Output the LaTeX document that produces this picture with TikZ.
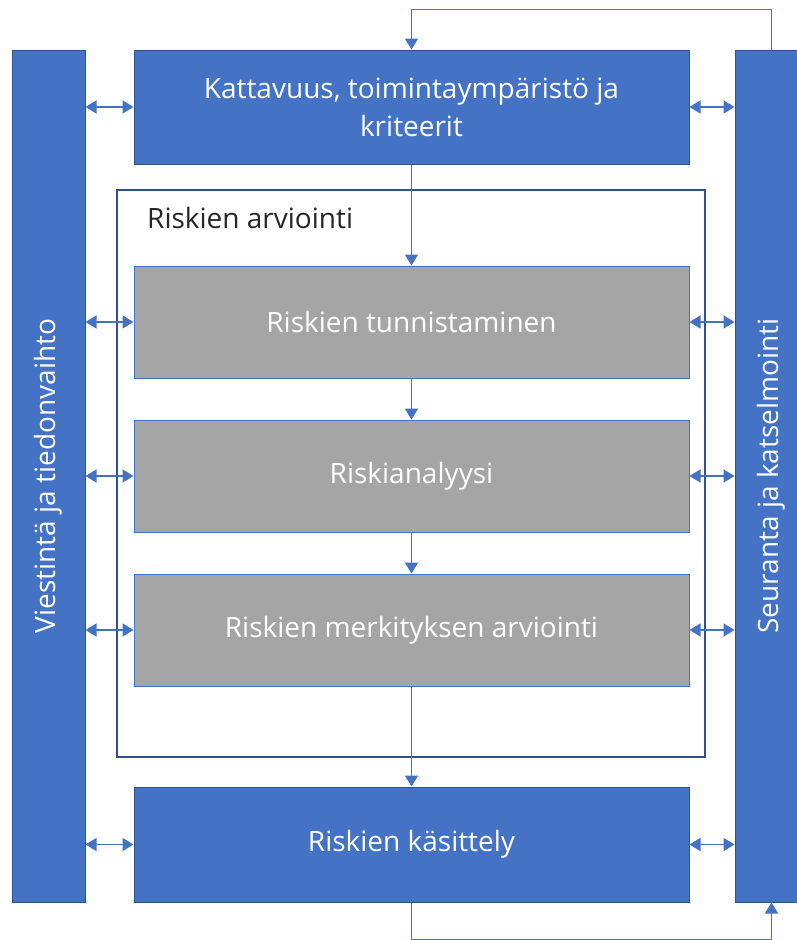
\documentclass[tikz,border=0pt]{standalone}
\usepackage{fontspec}
\setmainfont{Open Sans}
\usetikzlibrary{arrows.meta}

\definecolor{boxblue}{HTML}{4472C4}
\definecolor{edgeblue}{HTML}{2F528F}
\definecolor{boxgray}{HTML}{A5A5A5}

\begin{document}
\begin{tikzpicture}[
              x=1pt, y=-1pt,
              every node/.style={inner sep=0pt, font=\fontsize{28}{38}\selectfont, text=white},
              bluebox/.style={draw=edgeblue, line width=1pt, fill=boxblue, minimum width=555pt},
              graybox/.style={draw=boxblue, line width=1pt, fill=boxgray, minimum width=555pt, minimum height=112pt},
              sidebar/.style={draw=edgeblue, line width=1pt, fill=boxblue, minimum width=73pt, minimum height=852pt},
              link/.style={draw=boxblue, line width=1.6pt, -{Triangle[length=11pt,width=13pt]}},
              bothlink/.style={link, {Triangle[length=11pt,width=13pt]}-{Triangle[length=11pt,width=13pt]}}
            ]
              \useasboundingbox (0,0) rectangle (797,940);
              \begin{scope}
              \clip (0,0) rectangle (797,940);
              % side bars
              \node[sidebar] (comm) at (48.5,476) {};
              \node[rotate=90] at (comm) {Viestintä ja tiedonvaihto};
              \node[sidebar] (watch) at (771.5,476) {};
              \node[rotate=90] at (watch) {Seuranta ja katselmointi};
              \end{scope}

              % assessment frame
              \draw[edgeblue, line width=2.5pt] (117,190) rectangle (705,757);
              \node[text=black!85, anchor=base west] (frame) at (147,228) {Riskien arviointi};

              % main steps
              \node[bluebox, minimum height=114pt, align=center] (scope) at (411.5,107)
                {Kattavuus, toimintaympäristö ja\\kriteerit};
              \node[graybox] (ident) at (411.5,322) {Riskien tunnistaminen};
              \node[graybox] (anal) at (411.5,476) {Riskianalyysi};
              \node[graybox] (eval) at (411.5,630) {Riskien merkityksen arviointi};
              \node[bluebox, minimum height=115pt] (treat) at (411.5,844.5) {Riskien käsittely};

              % flow
              \draw[link] (scope) -- (ident);
              \draw[link] (ident) -- (anal);
              \draw[link] (anal) -- (eval);
              \draw[link] (eval) -- (treat);

              % exchange with the side bars
              \foreach \step in {scope,ident,anal,eval,treat} {
                \draw[bothlink] (\step.west -| comm.east) -- (\step.west);
                \draw[bothlink] (\step.east) -- (\step.east -| watch.west);
              }

              % loops
              \draw[link] (watch.north) -- ++(0,-40) -| (scope.north);
              \draw[link] (treat.south) -- ++(0,37) -| (watch.south);
            \end{tikzpicture}
\end{document}
